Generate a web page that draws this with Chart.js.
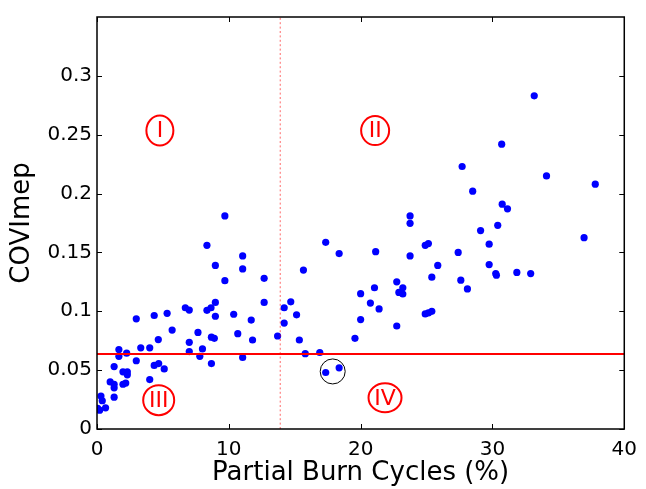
<!DOCTYPE html>
<html>
<head>
<meta charset="utf-8">
<script src="https://cdn.jsdelivr.net/npm/chart.js@4.4.0/dist/chart.umd.min.js"></script>
<style>
  html, body { margin: 0; padding: 0; background: #fff; }
  canvas { display: block; }
</style>
</head>
<body>
<canvas id="chart" width="646" height="489"></canvas>
<script>
// measured points: partial burn cycles (%) vs COVImep
const burnPct = [
  0.05, 0.2, 0.3, 0.4, 0.65, 1.0, 1.3, 1.3, 1.3, 1.3,
  1.66, 1.66, 1.97, 1.97, 2.18, 2.25, 2.3, 2.3, 2.98, 2.98,
  3.32, 4.0, 4.0, 4.34, 4.34, 4.65, 4.68, 5.1, 5.32, 5.7,
  6.7, 7.0, 7.0, 7.0, 7.66, 7.8, 8.0, 8.34, 8.34, 8.65,
  8.68, 8.68, 8.9, 8.98, 8.98, 8.98, 9.7, 9.7, 10.37, 10.68,
  11.05, 11.05, 11.05, 11.7, 11.8, 12.68, 12.68, 13.7, 14.2, 14.2,
  14.7, 15.14, 15.35, 15.66, 15.8, 16.9, 17.35, 17.35, 18.37, 18.37,
  19.57, 20.0, 20.0, 20.74, 21.05, 21.14, 21.4, 22.74, 22.74, 22.9,
  23.2, 23.2, 23.75, 23.75, 23.75, 24.9, 25.14, 24.9, 25.14, 25.4,
  25.4, 25.85, 27.4, 27.6, 27.7, 28.1, 28.5, 29.1, 29.75, 29.75,
  30.25, 30.3, 30.4, 30.7, 30.74, 31.14, 31.85, 32.9, 33.17, 34.1,
  36.95, 37.8
];
const covImep = [
  0.0175, 0.016, 0.028, 0.024, 0.018, 0.040, 0.038, 0.035, 0.027, 0.053,
  0.0675, 0.0617, 0.0486, 0.038, 0.039, 0.0644, 0.0486, 0.046, 0.0936, 0.058,
  0.069, 0.069, 0.042, 0.0964, 0.054, 0.076, 0.0556, 0.051, 0.0983, 0.084,
  0.103, 0.101, 0.0736, 0.0658, 0.082, 0.0617, 0.068, 0.156, 0.1008, 0.103,
  0.078, 0.0556, 0.077, 0.139, 0.1075, 0.0958, 0.181, 0.126, 0.0975, 0.081,
  0.147, 0.136, 0.0608, 0.0925, 0.0756, 0.128, 0.1075, 0.079, 0.103, 0.090,
  0.108, 0.097, 0.0756, 0.135, 0.064, 0.065, 0.1586, 0.048, 0.149, 0.052,
  0.077, 0.115, 0.093, 0.107, 0.12, 0.1506, 0.102, 0.125, 0.0875, 0.116,
  0.120, 0.1147, 0.181, 0.1747, 0.147, 0.156, 0.1575, 0.0978, 0.0986, 0.100,
  0.129, 0.139, 0.150, 0.1264, 0.223, 0.119, 0.202, 0.1686, 0.157, 0.1397,
  0.132, 0.1306, 0.173, 0.242, 0.191, 0.187, 0.133, 0.132, 0.283, 0.215,
  0.1625, 0.208
];

const xTicks = [0, 10, 20, 30, 40];
const yTicks = [0, 0.05, 0.1, 0.15, 0.2, 0.25, 0.3];
const xMax = 40;
const yMax = 0.35;

// threshold lines
const covLimit = 0.0637;
const burnLimit = 13.9;

// quadrant labels
const regionLabels = ['I', 'II', 'III', 'IV'];
const regionX = [4.77, 21.1, 4.68, 21.85];
const regionY = [0.2535, 0.2535, 0.0245, 0.0265];
const regionRx = [13.5, 14, 15.5, 16.5];
const regionRy = [15, 14.5, 15, 14.5];

// circled outliers
const markX = 17.88;
const markY = 0.0489;

const points = burnPct.map(function(x, i) {
  return { x: x, y: covImep[i] };
});

const FONT = "'DejaVu Sans', sans-serif";

const decorations = {
  id: 'decorations',
  afterDatasetsDraw: (chart) => {
    const ctx = chart.ctx;
    const xs = chart.scales.x;
    const ys = chart.scales.y;
    const area = chart.chartArea;
    ctx.save();

    // region labels in red ellipses
    ctx.strokeStyle = '#ff0000';
    ctx.fillStyle = '#ff0000';
    ctx.lineWidth = 2;
    ctx.font = '22px ' + FONT;
    ctx.textAlign = 'center';
    ctx.textBaseline = 'middle';
    for (let i = 0; i < regionLabels.length; i++) {
      const cx = xs.getPixelForValue(regionX[i]);
      const cy = ys.getPixelForValue(regionY[i]);
      ctx.beginPath();
      ctx.ellipse(cx, cy, regionRx[i], regionRy[i], 0, 0, Math.PI * 2);
      ctx.stroke();
      ctx.fillText(regionLabels[i], cx, cy + 1);
    }

    // black circle around the two outliers
    ctx.strokeStyle = '#000';
    ctx.lineWidth = 1;
    ctx.beginPath();
    ctx.arc(xs.getPixelForValue(markX), ys.getPixelForValue(markY), 12.5, 0, Math.PI * 2);
    ctx.stroke();

    // axes box with inward ticks
    ctx.lineWidth = 1.5;
    ctx.strokeRect(area.left, area.top, area.right - area.left, area.bottom - area.top);
    ctx.lineWidth = 1;
    ctx.beginPath();
    xTicks.forEach(function(v) {
      const px = Math.round(xs.getPixelForValue(v)) + 0.5;
      ctx.moveTo(px, area.bottom);
      ctx.lineTo(px, area.bottom - 5);
      ctx.moveTo(px, area.top);
      ctx.lineTo(px, area.top + 5);
    });
    yTicks.forEach(function(v) {
      const py = Math.round(ys.getPixelForValue(v)) + 0.5;
      ctx.moveTo(area.left, py);
      ctx.lineTo(area.left + 5, py);
      ctx.moveTo(area.right, py);
      ctx.lineTo(area.right - 5, py);
    });
    ctx.stroke();
    ctx.restore();
  }
};

const config = {
  type: 'scatter',
  plugins: [decorations],
  data: {
    datasets: [
      {
        type: 'line',
        data: [{ x: 0, y: covLimit }, { x: xMax, y: covLimit }],
        borderColor: '#ff0000',
        borderWidth: 2,
        pointRadius: 0,
        fill: false
      },
      {
        type: 'line',
        data: [{ x: burnLimit, y: 0 }, { x: burnLimit, y: yMax }],
        borderColor: 'rgba(255, 0, 0, 0.6)',
        borderWidth: 1,
        borderDash: [2, 2.4],
        pointRadius: 0,
        fill: false
      },
      {
        data: points,
        backgroundColor: '#0000ff',
        borderWidth: 0,
        pointRadius: 3.6,
        pointHoverRadius: 3.6
      }
    ]
  },
  options: {
    responsive: false,
    animation: false,
    devicePixelRatio: 1,
    layout: {
      padding: { left: 0, right: 14.5, top: 8, bottom: 0 }
    },
    plugins: {
      legend: { display: false },
      tooltip: { enabled: false }
    },
    scales: {
      x: {
        type: 'linear',
        min: 0,
        max: xMax,
        afterFit: (scale) => { scale.height = 60; },
        afterBuildTicks: (scale) => {
          scale.ticks = xTicks.map(function(v) { return { value: v }; });
        },
        grid: { display: false, drawTicks: false },
        border: { display: false },
        ticks: {
          padding: 9,
          color: '#000',
          maxRotation: 0,
          font: { family: FONT, size: 20 },
          callback: (v) => String(v)
        },
        title: {
          display: true,
          text: 'Partial Burn Cycles (%)',
          color: '#000',
          font: { family: FONT, size: 26 },
          padding: { top: 0, bottom: 0 }
        }
      },
      y: {
        type: 'linear',
        min: 0,
        max: yMax,
        afterFit: (scale) => { scale.width = 97; },
        afterBuildTicks: (scale) => {
          scale.ticks = yTicks.map(function(v) { return { value: v }; });
        },
        grid: { display: false, drawTicks: false },
        border: { display: false },
        ticks: {
          padding: 5,
          color: '#000',
          font: { family: FONT, size: 20 },
          callback: (v) => String(Math.round(v * 100) / 100)
        },
        title: {
          display: true,
          text: 'COVImep',
          color: '#000',
          font: { family: FONT, size: 26 },
          padding: { top: 7, bottom: 0 }
        }
      }
    }
  }
};

const chart = new Chart(document.getElementById('chart').getContext('2d'), config);
</script>
</body>
</html>
